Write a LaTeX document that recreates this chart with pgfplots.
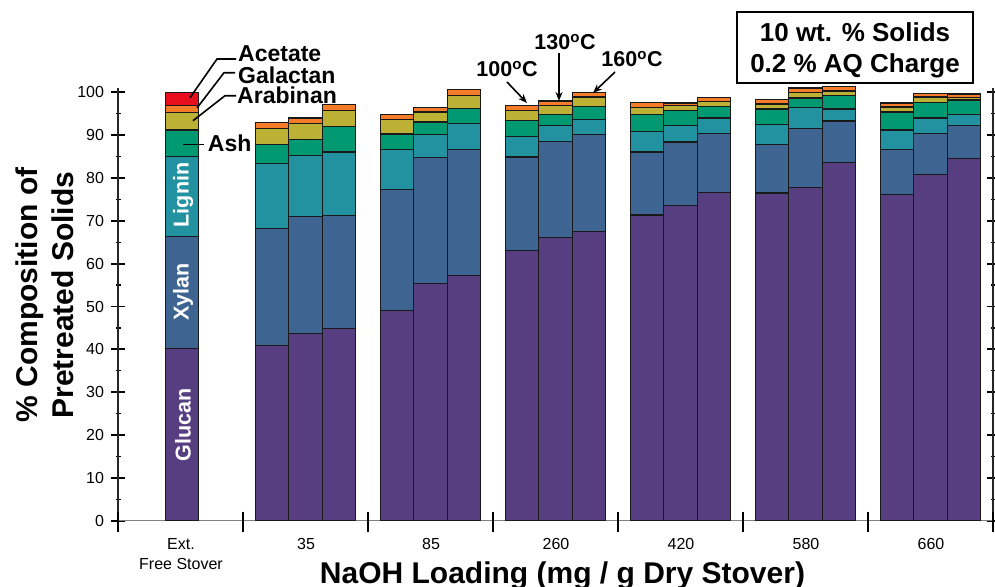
\documentclass[border=0pt]{standalone}
\usepackage{fontspec}
\setmainfont{Liberation Sans}
\usepackage{pgfplots}
\usepackage{pgfplotstable}
\pgfplotsset{compat=1.18}
\usetikzlibrary{arrows.meta}

\definecolor{cGlu}{RGB}{87,62,128}
\definecolor{cXyl}{RGB}{62,101,145}
\definecolor{cLig}{RGB}{34,145,160}
\definecolor{cAsh}{RGB}{0,153,114}
\definecolor{cAra}{RGB}{188,177,52}
\definecolor{cGal}{RGB}{245,124,40}
\definecolor{cAce}{RGB}{233,14,30}

% segment heights: Glucan, Xylan, Lignin, Ash, Arabinan, Galactan
\pgfplotstableread{
x G X L A R Ga
0.012 40.2 26.1 18.7 6.2 4.1 1.6
0.7333 40.9 27.3 15.2 4.5 3.6 1.5
1 43.7 27.3 14.2 3.8 3.7 1.3
1.2667 44.8 26.4 14.9 6.0 3.6 1.5
1.7333 49.1 28.3 9.2 3.7 3.3 1.3
2 55.3 29.5 5.3 3.0 2.3 1.0
2.2667 57.2 29.4 6.2 3.4 3.1 1.4
2.7333 63.1 21.8 4.8 3.8 2.2 1.3
3 66.2 22.4 3.6 2.7 2.1 1.0
3.2667 67.6 22.5 3.6 3.0 2.2 1.0
3.7333 71.4 14.7 4.7 4.1 1.6 1.1
4 73.6 14.8 3.9 3.5 1.2 0.5
4.2667 76.7 13.7 3.6 2.7 1.2 0.9
4.7333 76.5 11.4 4.6 3.6 1.2 1.1
5 77.8 13.7 5.0 2.2 1.2 1.1
5.2667 83.7 9.6 2.8 3.1 1.1 1.0
5.7333 76.2 10.4 4.6 4.2 1.2 0.9
6 80.9 9.5 3.6 3.7 1.2 0.9
6.2667 84.5 7.7 2.7 3.3 0.6 0.8
}\comp

\begin{document}
\begin{tikzpicture}
\begin{axis}[
  scale only axis, width=875pt, height=432.6pt,
  at={(118pt,-520.7pt)}, anchor=south west,
  xmin=-0.5, xmax=6.5, ymin=0, ymax=101,
  axis x line*=bottom, axis y line*=box,
  x axis line style={draw=gray, line width=1.4pt},
  y axis line style={draw=black!85, line width=1.5pt},
  xtick=\empty,
  ytick={0,10,...,100}, minor y tick num=1,
  ytick pos=both, yticklabel pos=left,
  tick align=center,
  major tick length=13pt, minor tick length=5pt,
  major tick style={line width=1.8pt, black},
  minor tick style={line width=1.3pt, black},
  yticklabel style={font=\fontsize{16}{16}\selectfont, xshift=-4pt},
  /pgf/number format/assume math mode=true,
  ybar stacked, bar width=0.26667,
  clip=false,
]
\addplot[fill=cGlu, draw=black!90, line width=1.3pt] table[x=x,y=G]{\comp};
\addplot[fill=cXyl, draw=black!90, line width=1.3pt] table[x=x,y=X]{\comp};
\addplot[fill=cLig, draw=black!90, line width=1.3pt] table[x=x,y=L]{\comp};
\addplot[fill=cAsh, draw=black!90, line width=1.3pt] table[x=x,y=A]{\comp};
\addplot[fill=cAra, draw=black!90, line width=1.3pt] table[x=x,y=R]{\comp};
\addplot[fill=cGal, draw=black!90, line width=1.3pt] table[x=x,y=Ga]{\comp};
\addplot[fill=cAce, draw=black!90, line width=1.3pt] coordinates {(0.012,3.0)};
\end{axis}

\begin{scope}[x=1pt,y=-1pt]
% group separators on the x axis
\foreach \s in {0,1,...,7}{
  \draw[black, line width=1.8pt] (118+125*\s,511.7) -- (118+125*\s,531.7);
}
% group labels
\begin{scope}[every node/.style={anchor=north, align=center, inner sep=0, font=\fontsize{16}{20}\selectfont}]
\node at (181,538) {Ext.\\Free Stover};
\node at (306,538) {35};
\node at (431,538) {85};
\node at (556,538) {260};
\node at (681,538) {420};
\node at (806,538) {580};
\node at (931,538) {660};
\end{scope}
% axis titles
\node[rotate=90, anchor=base, inner sep=0, font=\fontsize{30}{36}\selectfont\bfseries] at (37,295) {\% Composition of};
\node[rotate=90, anchor=base, inner sep=0, font=\fontsize{30}{36}\selectfont\bfseries] at (73,295) {Pretreated Solids};
\node[anchor=base, inner sep=0, font=\fontsize{30}{36}\selectfont\bfseries] at (562.5,583) {NaOH Loading (mg / g Dry Stover)};
% labels inside the first bar
\begin{scope}[every node/.style={rotate=90, text=white, inner sep=0, font=\fontsize{21.5}{24}\selectfont\bfseries}]
\node at (183,195) {Lignin};
\node at (183,292) {Xylan};
\node at (183,425) {Glucan};
\end{scope}
% component annotations
\begin{scope}[every node/.style={anchor=base west, inner sep=0, font=\fontsize{23}{26}\selectfont\bfseries}]
\node at (238,61.7) {Acetate};
\node at (238,83.3) {Galactan};
\node at (237,103.3) {Arabinan};
\node at (207.7,151.7) {Ash};
\end{scope}
\draw[line width=1.6pt] (236,59) -- (217,59) -- (190,97.7);
\draw[line width=1.6pt] (235,72.7) -- (224,72.7) -- (197,108);
\draw[line width=1.6pt] (236,95.7) -- (225,95.7) -- (193,120.7);
\draw[line width=1.6pt] (183,144.3) -- (204,144.3);
% temperatures
\begin{scope}[every node/.style={anchor=base, inner sep=0, font=\fontsize{21.5}{24}\selectfont\bfseries}]
\node at (507,77) {100\textsuperscript{o}C};
\node at (565,50) {130\textsuperscript{o}C};
\node at (632,66.7) {160\textsuperscript{o}C};
\end{scope}
\draw[-{Stealth[length=9pt,width=7pt]}, line width=1.6pt] (507,82) -- (527,103);
\draw[-{Stealth[length=9pt,width=7pt]}, line width=1.6pt] (559,53) -- (559,101);
\draw[-{Stealth[length=9pt,width=7pt]}, line width=1.6pt] (615,72) -- (593,93);
% conditions box
\draw[line width=1.5pt] (737,12) rectangle (973,83);
\node[anchor=base, inner sep=0, font=\fontsize{26}{30}\selectfont\bfseries] at (855,41.7) {10 wt. \% Solids};
\node[anchor=base, inner sep=0, font=\fontsize{26}{30}\selectfont\bfseries] at (855,72.7) {0.2 \% AQ Charge};
\pgfresetboundingbox
\path (0,0) rectangle (995,586);
\end{scope}
\end{tikzpicture}
\end{document}
